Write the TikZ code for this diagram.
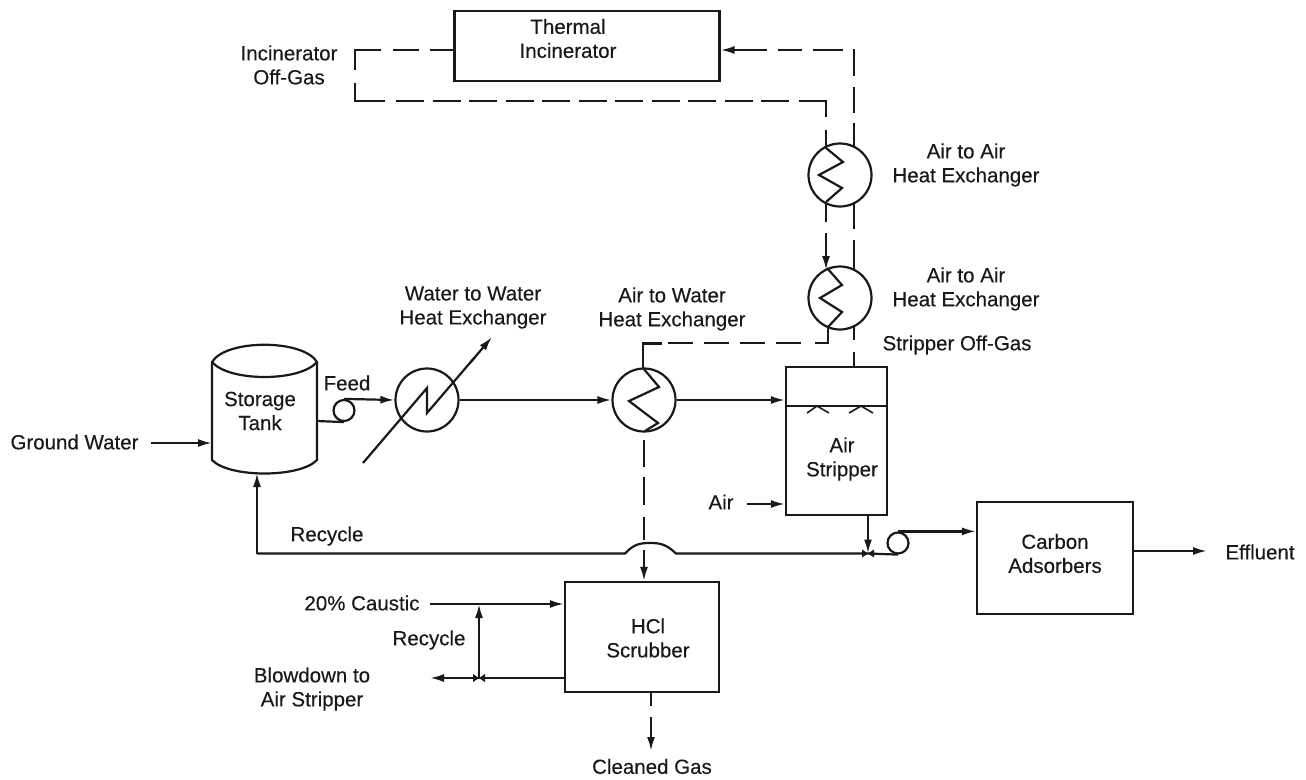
\documentclass[tikz,border=0pt]{standalone}
\usepackage{fontspec}
\setmainfont[FakeBold=0.25]{Liberation Sans}
\usetikzlibrary{arrows.meta}
\tikzset{
  x=1pt,y=-1pt,
  line/.style={line width=2.2pt,black!90},
  flow/.style={line,-{Latex[length=14pt,width=8pt]}},
  lbl/.style={font=\fontsize{20.5}{24}\selectfont,align=center,inner sep=0pt,text=black!90},
  vessel/.style={line,draw,fill=white,inner sep=0pt},
  hx/.style={line,draw,circle,inner sep=0pt,minimum size=63pt},
  pump/.style={line,draw,circle,inner sep=0pt,minimum size=21pt}
}
\begin{document}
\begin{tikzpicture}
\useasboundingbox (0,0) rectangle (1306,779);
% units
\node[vessel,minimum width=265pt,minimum height=70pt] (ti) at (587,46) {};
\node[vessel,minimum width=101pt,minimum height=148pt] (as) at (836.5,441) {};
\node[vessel,minimum width=154pt,minimum height=110pt] (hcl) at (642,637) {};
\node[vessel,minimum width=156pt,minimum height=112pt] (ca) at (1055,558) {};
\node[hx] (h1) at (840,175) {};
\node[hx] (h2) at (840,298) {};
\node[hx] (h3) at (644,400) {};
\node[hx] (h4) at (427,400) {};
\node[pump] (p1) at (344,410.5) {};
\node[pump] (p2) at (898,543) {};
% storage tank
\draw[line] (212,362) .. controls (226,339) and (303,339) .. (317,362)
  -- (317,460) .. controls (300,478) and (229,478) .. (212,460) -- cycle;
\draw[line] (212,362) .. controls (229,382) and (300,382) .. (317,362);
\coordinate (tankL) at (212,443);
\coordinate (tankR) at (317,421);
\coordinate (tankB) at (257,473);
% labels
\node[lbl] (l1) at (568,38.5) {Thermal\\Incinerator};
\node[lbl] (l2) at (289,65) {Incinerator\\Off-Gas};
\node[lbl] (l3) at (966,165) {Air to Air\\Heat Exchanger};
\node[lbl] (l4) at (966,289) {Air to Air\\Heat Exchanger};
\node[lbl] (l5) at (473,307.5) {Water to Water\\Heat Exchanger};
\node[lbl] (l6) at (672,309) {Air to Water\\Heat Exchanger};
\node[lbl] (l7) at (957,345) {Stripper Off-Gas};
\node[lbl] (l8) at (260,411) {Storage\\Tank};
\node[lbl] (l9) at (347,383) {Feed};
\node[lbl] (l10) at (74.5,442) {Ground Water};
\node[lbl] (l11) at (842,459) {Air\\Stripper};
\node[lbl] (l12) at (721,502) {Air};
\node[lbl] (l13) at (327,536) {Recycle};
\node[lbl] (l14) at (648,638) {HCl\\Scrubber};
\node[lbl] (l15) at (362,603) {20\% Caustic};
\node[lbl] (l16) at (429,640) {Recycle};
\node[lbl] (l17) at (312,689) {Blowdown to\\Air Stripper};
\node[lbl] (l18) at (652,766.5) {Cleaned Gas};
\node[lbl] (l19) at (1055,553.5) {Carbon\\Adsorbers};
\node[lbl] (l20) at (1260,552) {Effluent};
% free ends
\coordinate (gw) at (151,443);
\coordinate (air) at (747,504);
\coordinate (cau) at (430,604);
\coordinate (blow) at (430,678);
\coordinate (eff) at (1207,551);
\coordinate (j1) at (868,553.5);
\coordinate (j2) at (479,678);
\coordinate (j3) at (479,604);
% incinerator off-gas, dashes as printed
\draw[line] (ti.west |- 0,50) -- (430,50);
\draw[line] (419,50) -- (393,50);
\draw[line] (381,50) -- (355,50) -- (355,70);
\draw[line] (355,83) -- (355,101) -- (385,101);
\draw[line,dash pattern=on 28pt off 8.5pt] (396,101) -- (790,101);
\draw[line] (799,101) -- (826,101) -- (826,117);
\draw[line] (826,130) -- (826,148);
% stripper off-gas up to the incinerator
\draw[flow] (767,50) -- (ti.east |- 0,50);
\draw[line] (778,50) -- (802,50);
\draw[line] (813,50) -- (843,50);
\draw[line] (854,49) -- (854,76);
\draw[line] (854,87) -- (854,113);
\draw[line] (854,123) -- (854,147);
\draw[line] (854,203) -- (854,229);
\draw[line] (854,240) -- (854,270);
\draw[line] (854,326) -- (854,340);
\draw[line] (854,352) -- (as.north -| 854,0);
% between exchangers
\draw[line] (826,203) -- (826,222);
\draw[flow] (826,233) -- (826,270);
\draw[line] (828,327) -- (828,343) -- (815,343);
\draw[line,dash pattern=on 25pt off 11pt] (668,343) -- (802,343);
\draw[line] (662,343.5) -- (643,343.5) -- (643,368);
% zigzags
\draw[line] (826,148) -- (843,162) -- (819,175) -- (842,188) -- (826,202);
\draw[line] (827,268) -- (842,285) -- (820,298) -- (842,312) -- (828,327);
\draw[line] (643,368) -- (659,387) -- (629,401) -- (658,423) -- (645,431);
\draw[line] (363,463) -- (427,388) -- (427,413) -- (475,357);
\draw[flow] (470,363) -- (492,337);
% gas down to scrubber
\draw[line] (644,440) -- (644,467);
\draw[line] (644,477) -- (644,505);
\draw[line] (644,517) -- (644,540);
\draw[flow] (644,550) -- (hcl.north -| 644,0);
\draw[line] (hcl.south -| 651,0) -- (651,706);
\draw[flow] (651,717) -- (651,751);
% water
\draw[flow] (gw) -- (tankL);
\draw[line] (tankR) -- (p1.south);
\draw[flow] (p1.north) -- (h4.west);
\draw[flow] (h4.east) -- (h3.west);
\draw[flow] (h3.east) -- (as.west |- h3.east);
\draw[flow] (air) -- (as.west |- air);
\draw[line] (as.west |- 0,406) -- (as.east |- 0,406);
\draw[line,line width=1.6pt] (807,413) -- (817,406) -- (829,413);
\draw[line,line width=1.6pt] (849,413) -- (861,406) -- (873,413);
\draw[flow] (as.south -| j1) -- (j1);
\draw[line] (p2.south) -- (j1) -- (676,553.5) .. controls (666,544) and (660,543) .. (650,543)
  .. controls (640,543) and (634,544) .. (625,553.5) -- (257,553.5);
\draw[flow] (257,553.5) -- (tankB);
\draw[flow] (p2.north) -- (ca.west |- p2.north);
\draw[flow] (ca.east |- eff) -- (eff);
\draw[flow] (cau) -- (hcl.west |- cau);
\draw[flow] (hcl.west |- blow) -- (blow);
\draw[flow] (j2) -- (j3);
% junction marks
\fill[black!90] (j1) ++(-6,-4) -- ++(6,4) -- ++(6,-4) -- ++(0,8) -- ++(-6,-4) -- ++(-6,4) -- cycle;
\fill[black!90] (j2) ++(-6,-4) -- ++(6,4) -- ++(6,-4) -- ++(0,8) -- ++(-6,-4) -- ++(-6,4) -- cycle;
\end{tikzpicture}
\end{document}
